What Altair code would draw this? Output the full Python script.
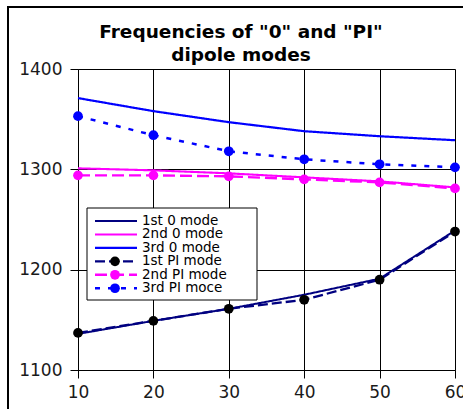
import altair as alt
import pandas as pd

x_vals = [10, 20, 30, 40, 50, 60]
mode0_1 = [1136, 1149, 1161, 1175, 1191, 1239]
mode0_2 = [1301, 1299, 1296, 1292, 1288, 1282]
mode0_3 = [1371, 1358, 1347, 1338, 1333, 1329]
modePI_1 = [1137, 1149, 1161, 1170, 1190, 1238]
modePI_2 = [1294, 1294, 1293, 1290, 1287, 1281]
modePI_3 = [1353, 1334, 1318, 1310, 1305, 1302]

series_names = ["1st 0 mode", "2nd 0 mode", "3rd 0 mode",
                "1st PI mode", "2nd PI mode", "3rd PI moce"]
series_values = [mode0_1, mode0_2, mode0_3, modePI_1, modePI_2, modePI_3]
line_colors = ["#000080", "#FF00FF", "#0000FF", "#000080", "#FF00FF", "#0000FF"]
line_dashes = [[1, 0], [1, 0], [1, 0], [10, 4], [12, 5], [5, 8]]
line_widths = [2, 2.5, 1.5, 2.5, 1, 1.5]
marker_series = series_names[3:]
marker_colors = ["#000000", "#FF00FF", "#0000FF"]
y_ticks = [1100, 1200, 1300, 1400]
title_lines = ['Frequencies of "0" and "PI"', "dipole modes"]

rows = []
for name, vals in zip(series_names, series_values):
    for xv, yv in zip(x_vals, vals):
        rows.append({"x": xv, "v": yv, "series": name})
df = pd.DataFrame(rows)
leg = pd.DataFrame({"series": series_names, "row": list(range(len(series_names)))})
ttl = pd.DataFrame({"line": title_lines, "row": list(range(len(title_lines)))})
one = pd.DataFrame({"a": [0]})

FONT = "DejaVu Sans"

color_enc = alt.Color("series:N", scale=alt.Scale(domain=series_names, range=line_colors), legend=None)
dash_enc = alt.StrokeDash("series:N", scale=alt.Scale(domain=series_names, range=line_dashes), legend=None)
width_enc = alt.StrokeWidth("series:N", scale=alt.Scale(domain=series_names, range=line_widths), legend=None)
fill_enc = alt.Fill("series:N", scale=alt.Scale(domain=marker_series, range=marker_colors), legend=None)

x_enc = alt.X("x:Q", scale=alt.Scale(domain=[10, 60], nice=False),
              axis=alt.Axis(values=x_vals, title=None, grid=True, gridColor="black", gridOpacity=1,
                            gridWidth=1, domainColor="black", tickColor="black", tickSize=8,
                            labelFont=FONT, labelFontSize=17, labelColor="#1a1a1a", labelPadding=6,
                            labelFlush=False))
y_enc = alt.Y("v:Q", scale=alt.Scale(domain=[1100, 1400], nice=False, zero=False),
              axis=alt.Axis(values=y_ticks, title=None, grid=True, gridColor="black", gridOpacity=1,
                            gridWidth=1, domainColor="black", tickColor="black", tickSize=8,
                            labelFont=FONT, labelFontSize=17, labelColor="#1a1a1a", labelPadding=8,
                            format="d"))

lines = alt.Chart(df).mark_line().encode(
    x=x_enc, y=y_enc, color=color_enc, strokeDash=dash_enc, strokeWidth=width_enc,
    detail="series:N", order="x:Q")

points = alt.Chart(df).transform_filter(
    alt.FieldOneOfPredicate(field="series", oneOf=marker_series)
).mark_circle(size=95, opacity=1).encode(x="x:Q", y="v:Q", fill=fill_enc)

leg_y = alt.Y("py:Q", scale=None, axis=None)

legend_box = alt.Chart(one).mark_rect(fill="white", stroke="black", strokeWidth=1).encode(
    x=alt.value(9), x2=alt.value(179), y=alt.value(139), y2=alt.value(231))

legend_lines = alt.Chart(leg).transform_calculate(py="152 + datum.row * 13.45").mark_rule().encode(
    x=alt.value(17), x2=alt.value(59), y=leg_y, color=color_enc, strokeDash=dash_enc, strokeWidth=width_enc)

legend_dots = alt.Chart(leg).transform_calculate(py="152 + datum.row * 13.45").transform_filter(
    alt.FieldOneOfPredicate(field="series", oneOf=marker_series)
).mark_circle(size=95, opacity=1).encode(x=alt.value(37), y=leg_y, fill=fill_enc)

legend_text = alt.Chart(leg).transform_calculate(py="152 + datum.row * 13.45").mark_text(
    align="left", baseline="middle", font=FONT, fontSize=13.5, color="black").encode(
    x=alt.value(64), y=leg_y, text="series:N")

title_text = alt.Chart(ttl).transform_calculate(py="-31 + datum.row * 23").mark_text(
    align="center", baseline="alphabetic", font=FONT, fontSize=18.5, fontWeight="bold", color="black").encode(
    x=alt.value(163), y=leg_y, text="line:N")

frame = alt.Chart(one).mark_rect(fill=None, stroke="black", strokeWidth=2).encode(
    x=alt.value(-70), x2=alt.value(420), y=alt.value(-62), y2=alt.value(360))

chart = alt.layer(lines, points, legend_box, legend_lines, legend_dots, legend_text, title_text, frame).properties(
    width=377, height=301,
    padding={"left": 78, "top": 69, "right": 8, "bottom": 39},
    autosize=alt.AutoSizeParams(type="none"),
).configure_view(stroke="black", strokeWidth=1).configure(background="white")

chart.save("out.html", embed_options={"renderer": "svg", "actions": False})
